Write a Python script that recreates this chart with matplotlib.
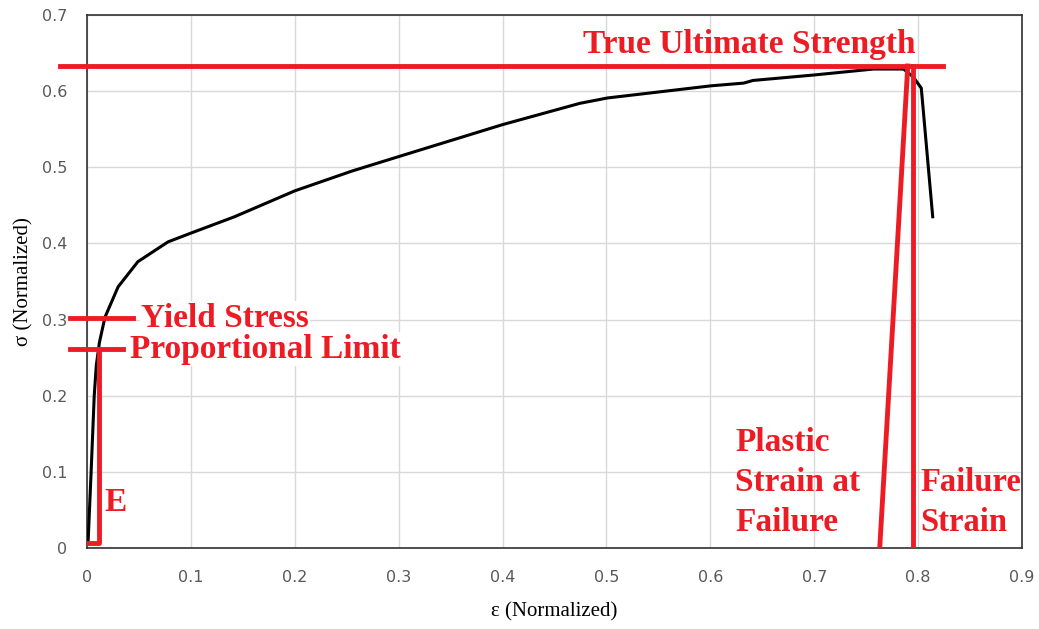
import matplotlib.pyplot as plt

# stress-strain curve (normalized)
strain = [0.001, 0.004, 0.007, 0.009, 0.012, 0.0173, 0.03, 0.049, 0.078, 0.1,
          0.142, 0.2, 0.255, 0.3, 0.35, 0.4, 0.4745, 0.501, 0.601,
          0.632, 0.641, 0.70, 0.757, 0.786, 0.795, 0.803, 0.814]
stress = [0.005, 0.1, 0.2, 0.24, 0.27, 0.303, 0.343, 0.376, 0.402, 0.4135,
          0.435, 0.469, 0.495, 0.514, 0.535, 0.556, 0.584, 0.591, 0.607,
          0.6105, 0.614, 0.6212, 0.629, 0.629, 0.619, 0.604, 0.435]

uts = 0.633
yield_stress = 0.302
prop_limit = 0.261
e_strain = 0.0115
failure_strain = 0.795
plastic_strain = [0.763, 0.79]

red = '#ed1c24'
plt.rcParams['font.family'] = ['DejaVu Sans']

fig = plt.figure(figsize=(10.39, 6.29), dpi=100)
ax = fig.add_axes([0.0837, 0.1288, 0.9, 0.8474])

ax.plot(strain, stress, color='black', lw=2.2, zorder=3)

# annotations
ax.plot([-0.026, 0.824], [uts, uts], color=red, lw=3.5, clip_on=False, zorder=4)
ax.plot([-0.0164, 0.044], [yield_stress, yield_stress], color=red, lw=3.5, clip_on=False, zorder=4)
ax.plot([-0.0164, 0.035], [prop_limit, prop_limit], color=red, lw=3.5, clip_on=False, zorder=4)
ax.plot([0.001, e_strain, e_strain], [0.007, 0.007, prop_limit], color=red, lw=3.5, zorder=4)
ax.plot([failure_strain, failure_strain], [0, uts], color=red, lw=3.5, zorder=4)
ax.plot(plastic_strain, [0, uts], color=red, lw=3.5, zorder=4)

tf = dict(color=red, fontweight='bold', family='Liberation Serif', fontsize=24)
ax.text(0.477, 0.661, 'True Ultimate Strength', va='center', ha='left', **tf)
ax.text(0.052, yield_stress, 'Yield Stress', va='center', ha='left',
        bbox=dict(fc='white', ec='none', pad=1), **tf)
ax.text(0.041, prop_limit, 'Proportional Limit', va='center', ha='left',
        bbox=dict(fc='white', ec='none', pad=1), **tf)
ax.text(0.017, 0.06, 'E', va='center', ha='left', **tf)
ax.text(0.624, 0.086, 'Plastic\nStrain at\nFailure', va='center', ha='left',
        linespacing=1.36, **tf)
ax.text(0.802, 0.06, 'Failure\nStrain', va='center', ha='left',
        linespacing=1.36, **dict(tf, fontsize=23.5))

ax.set_xlim(0, 0.9)
ax.set_ylim(0, 0.7)
ax.set_xticks([i / 10 for i in range(10)])
ax.set_xticklabels(['0'] + [f'{i/10:.1f}' for i in range(1, 10)])
ax.set_yticks([i / 10 for i in range(8)])
ax.set_yticklabels(['0'] + [f'{i/10:.1f}' for i in range(1, 8)])
ax.tick_params(length=0, labelsize=11.5, labelcolor='#595959')
ax.tick_params(axis='x', pad=16)
ax.tick_params(axis='y', pad=14)
ax.grid(color='#d9d9d9', lw=1)
ax.set_axisbelow(True)
for s in ax.spines.values():
    s.set_color('#303030')
    s.set_linewidth(1.2)

ax.set_xlabel('ε (Normalized)', family='Liberation Serif', fontsize=15, labelpad=12)
ax.set_ylabel('σ (Normalized)', family='Liberation Serif', fontsize=15, labelpad=6)

fig.savefig('out.png', dpi=100)
